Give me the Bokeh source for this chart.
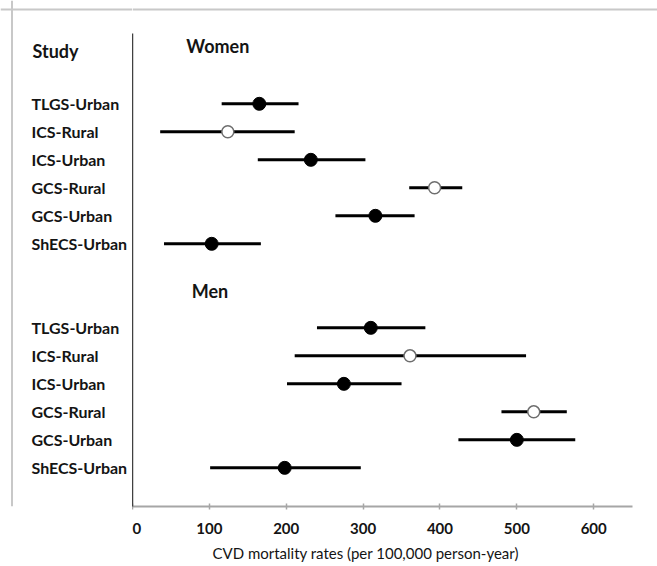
from bokeh.plotting import figure
from bokeh.layouts import row
from bokeh.models import Range1d, FixedTicker, Span, Title
from bokeh.core.properties import value
from bokeh.embed import file_html
from bokeh.resources import INLINE

# ---------------- data ----------------
studies = ["TLGS-Urban", "ICS-Rural", "ICS-Urban", "GCS-Rural", "GCS-Urban", "ShECS-Urban"]
rural = [False, True, False, True, False, False]

women_rate = [165, 124, 232, 393, 316, 103]
women_low = [116, 36, 163, 360, 264, 41]
women_high = [216, 211, 303, 429, 367, 167]

men_rate = [310, 361, 275, 522, 500, 198]
men_low = [240, 211, 201, 480, 424, 101]
men_high = [381, 512, 350, 565, 576, 297]

x_ticks = [0, 100, 200, 300, 400, 500, 600]
x_title = "CVD mortality rates (per 100,000 person-year)"
groups = ["Women", "Men"]
study_header = "Study"

# ---------------- layout constants ----------------
FONT = "Lato"
TXT = "#141414"
FRAME_GRAY = "#c8c8c8"
women_pos = [float(i) for i in range(len(studies))]
men_pos = [8.0 + i for i in range(len(studies))]
Y_TOP = -3.689          # row units at the top of the canvas
Y_AXIS_TOP = -2.51      # where the vertical axis line starts
Y_BOTTOM = 14.38        # row units at the x axis
Y_FRAME_LINE = -3.37

yr = Range1d(Y_BOTTOM, Y_TOP)

# ---------------- left panel: study labels ----------------
left = figure(width=132, height=566, output_backend="svg", toolbar_location=None,
              x_range=Range1d(0, 132), y_range=yr,
              min_border=0, min_border_left=0, min_border_right=0,
              min_border_top=0, min_border_bottom=60)
left.axis.visible = False
left.grid.visible = False
left.outline_line_color = None
left.add_layout(Span(location=11.5, dimension="height", line_color=FRAME_GRAY, line_width=2))
left.add_layout(Span(location=Y_FRAME_LINE, dimension="width", line_color=FRAME_GRAY, line_width=2))

for pos in (women_pos, men_pos):
    left.text(x=[31] * len(studies), y=pos, text=studies, text_align="left",
              text_baseline="middle", text_font=value(FONT), text_font_style="bold",
              text_font_size="16px", text_color=TXT)
left.text(x=[32], y=[-1.9], text=[study_header], text_align="left", text_baseline="middle",
          text_font=value(FONT), text_font_style="bold", text_font_size="18px", text_color=TXT)

# ---------------- main panel ----------------
p = figure(width=525, height=566, output_backend="svg", toolbar_location=None,
           x_range=Range1d(0, 683), y_range=yr,
           min_border=0, min_border_left=0, min_border_right=0, min_border_top=0,
           min_border_bottom=60)
p.outline_line_color = None
p.xgrid.visible = False
p.ygrid.visible = False
p.add_layout(Span(location=Y_FRAME_LINE, dimension="width", line_color=FRAME_GRAY, line_width=2))

# x axis
p.xaxis.ticker = FixedTicker(ticks=x_ticks)
p.xaxis.bounds = (0, 650)
p.xaxis.axis_line_color = "#a6a6a6"
p.xaxis.axis_line_width = 2
p.xaxis.major_tick_line_color = "#a6a6a6"
p.xaxis.major_tick_line_width = 1.5
p.xaxis.major_tick_in = 3
p.xaxis.major_tick_out = 3
p.xaxis.minor_tick_line_color = None
p.xaxis.major_label_text_font = FONT
p.xaxis.major_label_text_font_style = "bold"
p.xaxis.major_label_text_font_size = "15px"
p.xaxis.major_label_text_color = TXT
p.xaxis.major_label_standoff = 13

# y axis: only the line
p.yaxis.ticker = FixedTicker(ticks=[])
p.yaxis.bounds = (Y_AXIS_TOP, Y_BOTTOM)
p.yaxis.axis_line_color = "#404040"
p.yaxis.axis_line_width = 1.5
p.yaxis.major_tick_line_color = None
p.yaxis.minor_tick_line_color = None
p.yaxis.major_tick_in = 0
p.yaxis.major_tick_out = 0
p.yaxis.major_label_text_font_size = "0px"
p.yaxis.major_label_standoff = 0

p.add_layout(Title(text=x_title, align="left", offset=80, standoff=10,
                   text_font=FONT, text_font_style="normal", text_font_size="15px",
                   text_color=TXT), "below")


def draw_group(pos, rate, low, high):
    p.segment(x0=low, x1=high, y0=pos, y1=pos, line_color="black", line_width=3)
    fx = [r for r, ru in zip(rate, rural) if not ru]
    fy = [y for y, ru in zip(pos, rural) if not ru]
    ox = [r for r, ru in zip(rate, rural) if ru]
    oy = [y for y, ru in zip(pos, rural) if ru]
    p.scatter(fx, fy, size=13, fill_color="black", line_color="black")
    p.scatter(ox, oy, size=12, fill_color="white", line_color="#6e6e6e", line_width=1.5)


draw_group(women_pos, women_rate, women_low, women_high)
draw_group(men_pos, men_rate, men_low, men_high)

p.text(x=[70], y=[-2.05], text=[groups[0]], text_align="left", text_baseline="middle",
       text_font=value(FONT), text_font_style="bold", text_font_size="18px", text_color=TXT)
p.text(x=[77], y=[6.67], text=[groups[1]], text_align="left", text_baseline="middle",
       text_font=value(FONT), text_font_style="bold", text_font_size="18px", text_color=TXT)

layout = row(left, p, spacing=0)
open("out.html", "w").write(file_html(layout, INLINE))
